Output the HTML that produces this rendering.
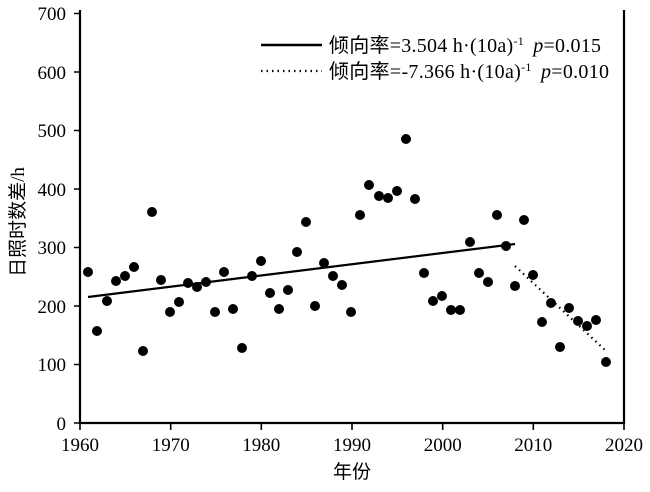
<!DOCTYPE html>
<html><head><meta charset="utf-8"><style>
body{margin:0;background:#fff}
text{font-family:"Liberation Serif","Noto Sans CJK SC",serif;fill:#000}
</style></head><body>
<svg width="650" height="487" xmlns="http://www.w3.org/2000/svg">
<rect width="650" height="487" fill="#fff"/>
<g stroke="#000" stroke-width="2.2" fill="none">
<path d="M80,10 V423 H624 V10"/>
</g>
<g stroke="#000" stroke-width="1.6">
<path d="M80,423h-6M80,364.5h-6M80,306h-6M80,247.5h-6M80,189h-6M80,130.5h-6M80,72h-6M80,13.5h-6"/>
<path d="M80,423v7M170.7,423v7M261.3,423v7M352,423v7M442.7,423v7M533.3,423v7M624,423v7"/>
</g>
<g font-size="19" text-anchor="end">
<text x="66" y="430">0</text><text x="66" y="371">100</text><text x="66" y="313">200</text><text x="66" y="254">300</text><text x="66" y="196">400</text><text x="66" y="137">500</text><text x="66" y="79">600</text><text x="66" y="20">700</text>
</g>
<g font-size="19" text-anchor="middle">
<text x="80" y="451">1960</text><text x="170.7" y="451">1970</text><text x="261.3" y="451">1980</text><text x="352" y="451">1990</text><text x="442.7" y="451">2000</text><text x="533.3" y="451">2010</text><text x="624" y="451">2020</text>
<text x="352" y="478" font-size="19">年份</text>
<text transform="translate(24,222) rotate(-90)" font-size="19">日照时数差/h</text>
</g>
<line x1="88" y1="297" x2="515" y2="244" stroke="#000" stroke-width="2.2"/>
<line x1="515" y1="266" x2="606" y2="351" stroke="#000" stroke-width="2.2" stroke-dasharray="1.5,4"/>
<g fill="#000">
<circle cx="88" cy="272" r="5"/><circle cx="97" cy="331" r="5"/><circle cx="107" cy="301" r="5"/><circle cx="116" cy="281" r="5"/><circle cx="125" cy="276" r="5"/><circle cx="134" cy="267" r="5"/><circle cx="143" cy="351" r="5"/><circle cx="152" cy="212" r="5"/><circle cx="161" cy="280" r="5"/><circle cx="170" cy="312" r="5"/><circle cx="179" cy="302" r="5"/><circle cx="188" cy="283" r="5"/><circle cx="197" cy="287" r="5"/><circle cx="206" cy="282" r="5"/><circle cx="215" cy="312" r="5"/><circle cx="224" cy="272" r="5"/><circle cx="233" cy="309" r="5"/><circle cx="242" cy="348" r="5"/><circle cx="252" cy="276" r="5"/><circle cx="261" cy="261" r="5"/><circle cx="270" cy="293" r="5"/><circle cx="279" cy="309" r="5"/><circle cx="288" cy="290" r="5"/><circle cx="297" cy="252" r="5"/><circle cx="306" cy="222" r="5"/><circle cx="315" cy="306" r="5"/><circle cx="324" cy="263" r="5"/><circle cx="333" cy="276" r="5"/><circle cx="342" cy="285" r="5"/><circle cx="351" cy="312" r="5"/><circle cx="360" cy="215" r="5"/><circle cx="369" cy="185" r="5"/><circle cx="379" cy="196" r="5"/><circle cx="388" cy="198" r="5"/><circle cx="397" cy="191" r="5"/><circle cx="406" cy="139" r="5"/><circle cx="415" cy="199" r="5"/><circle cx="424" cy="273" r="5"/><circle cx="433" cy="301" r="5"/><circle cx="442" cy="296" r="5"/><circle cx="451" cy="310" r="5"/><circle cx="460" cy="310" r="5"/><circle cx="470" cy="242" r="5"/><circle cx="479" cy="273" r="5"/><circle cx="488" cy="282" r="5"/><circle cx="497" cy="215" r="5"/><circle cx="506" cy="246" r="5"/><circle cx="515" cy="286" r="5"/><circle cx="524" cy="220" r="5"/><circle cx="533" cy="275" r="5"/><circle cx="542" cy="322" r="5"/><circle cx="551" cy="303" r="5"/><circle cx="560" cy="347" r="5"/><circle cx="569" cy="308" r="5"/><circle cx="578" cy="321" r="5"/><circle cx="587" cy="326" r="5"/><circle cx="596" cy="320" r="5"/><circle cx="606" cy="362" r="5"/>
</g>
<line x1="261" y1="45" x2="322" y2="45" stroke="#000" stroke-width="2.4"/>
<line x1="261" y1="71" x2="322" y2="71" stroke="#000" stroke-width="2.2" stroke-dasharray="1.5,4"/>
<g font-size="20">
<text x="329" y="52" textLength="272">倾向率=3.504 h·(10a)<tspan dy="-7" font-size="12">-1</tspan><tspan dy="7"> </tspan><tspan font-style="italic" dx="4">p</tspan>=0.015</text>
<text x="329" y="78" textLength="280">倾向率=-7.366 h·(10a)<tspan dy="-7" font-size="12">-1</tspan><tspan dy="7"> </tspan><tspan font-style="italic" dx="4">p</tspan>=0.010</text>
</g>
</svg>
</body></html>
